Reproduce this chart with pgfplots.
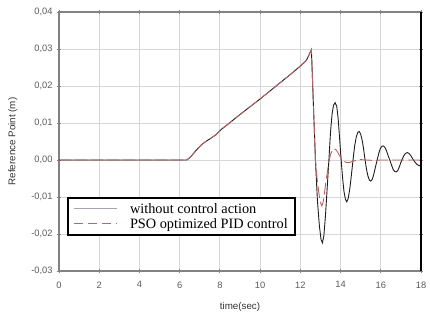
\documentclass[border=0pt]{standalone}
\usepackage{fontspec}
\setmainfont{Liberation Serif}
\setsansfont{Liberation Sans}
\usepackage{pgfplots}
\pgfplotsset{compat=1.18}
\definecolor{curveblack}{RGB}{30,30,30}
\definecolor{curvered}{RGB}{190,95,95}
\definecolor{leggray}{RGB}{165,165,175}
\definecolor{legred}{RGB}{170,110,110}
\definecolor{gridgray}{RGB}{215,215,215}
\definecolor{axgray}{RGB}{130,130,130}
\definecolor{ticktext}{RGB}{90,90,90}
\begin{document}
\begin{tikzpicture}
\useasboundingbox (-59pt,-45pt) rectangle (371pt,271pt);
\begin{axis}[
  scale only axis,
  width=362pt, height=259pt,
  xmin=0, xmax=18, ymin=-0.03, ymax=0.04,
  xtick={0,2,...,18},
  ytick={-0.03,-0.02,-0.01,0,0.01,0.02,0.03,0.04},
  scaled y ticks=false,
  yticklabel style={xshift=-1pt, /pgf/number format/.cd, fixed, fixed zerofill, precision=2, use comma},
  /pgf/number format/assume math mode=true,
  ticklabel style={font=\sffamily\fontsize{9.3}{10}\selectfont, text=ticktext},
  xticklabel style={yshift=-5pt},
  grid=major,
  major grid style={gridgray, line width=0.8pt},
  tick align=center,
  major tick length=4pt,
  tick style={axgray, line width=0.8pt},
  axis line style={axgray, line width=1.4pt},
  xlabel={time(sec)},
  ylabel={Reference Point (m)},
  label style={font=\sffamily\fontsize{9.8}{10}\selectfont, text=black!80},
  xlabel style={yshift=-7pt},
  ylabel style={yshift=7pt},
  legend style={at={(axis cs:0.4,-0.01)}, anchor=north west,
    draw=black, line width=2pt, fill=white,
    font=\rmfamily\fontsize{14.3}{14}\selectfont,
    row sep=2.5pt, inner xsep=5pt, inner ysep=4.5pt,
    nodes={inner ysep=0.6pt}},
  legend cell align=left,
  legend image code/.code={\draw[#1] (0pt,0pt) -- (43pt,0pt);},
]
\addlegendimage{leggray, line width=1pt, solid}
\addlegendentry{\hspace{11pt}without control action}
\addlegendimage{legred, line width=1pt, dash pattern=on 9pt off 5pt}
\addlegendentry{\hspace{11pt}PSO optimized PID control}

\addplot[curveblack, line width=0.9pt, forget plot] coordinates {
(0,0) (6.35,0) (6.5,0.0006) (6.65,0.0015) (6.8,0.0025) (6.95,0.0034) (7.1,0.0042)
(7.3,0.0050) (7.5,0.0057) (7.8,0.0068) (8.1,0.0084) (8.5,0.0101) (9,0.0123)
(9.5,0.0144) (10,0.0165) (10.5,0.0187) (11,0.0209) (11.5,0.0231) (12,0.0254)
(12.3,0.0269) (12.55,0.0298) (12.65,0.015) (12.75,0.0) (12.85,-0.011) (12.95,-0.018)
(13.03,-0.0215) (13.1,-0.0224) (13.17,-0.0205) (13.25,-0.015) (13.33,-0.008)
(13.42,0.0) (13.5,0.0075) (13.58,0.0125) (13.65,0.0148) (13.73,0.0155) (13.81,0.0145)
(13.88,0.0112) (13.95,0.006) (14.03,0.0) (14.1,-0.0048) (14.17,-0.0085) (14.24,-0.0106)
(14.31,-0.0113) (14.38,-0.0104) (14.46,-0.0078) (14.54,-0.004) (14.62,0.0)
(14.7,0.0038) (14.78,0.0062) (14.86,0.0075) (14.93,0.0077) (15.0,0.007) (15.08,0.0052)
(15.15,0.0028) (15.22,0.0) (15.29,-0.0025) (15.36,-0.0043) (15.43,-0.0054) (15.5,-0.0057)
(15.58,-0.0052) (15.65,-0.0039) (15.73,-0.002) (15.82,0.0) (15.9,0.0018) (15.97,0.0030)
(16.05,0.0037) (16.13,0.0038) (16.21,0.0034) (16.29,0.0024) (16.37,0.0011) (16.45,0.0)
(16.53,-0.0013) (16.61,-0.0025) (16.69,-0.0031) (16.77,-0.0032) (16.85,-0.0028)
(16.92,-0.0019) (16.99,-0.0008) (17.05,0.0) (17.13,0.001) (17.2,0.0016) (17.27,0.0019)
(17.33,0.002) (17.42,0.0017) (17.5,0.0011) (17.6,0.0002) (17.7,-0.0006) (17.8,-0.0012)
(17.9,-0.0015) (18,-0.0016)
};
\addplot[curvered, line width=0.9pt, dash pattern=on 12pt off 4pt, forget plot] coordinates {
(0,0) (6.35,0) (6.5,0.0006) (6.65,0.0015) (6.8,0.0025) (6.95,0.0034) (7.1,0.0042)
(7.3,0.0050) (7.5,0.0057) (7.8,0.0068) (8.1,0.0084) (8.5,0.0101) (9,0.0123)
(9.5,0.0144) (10,0.0165) (10.5,0.0187) (11,0.0209) (11.5,0.0231) (12,0.0254)
(12.3,0.0269) (12.55,0.0298) (12.65,0.015) (12.75,0.0) (12.85,-0.006) (12.95,-0.0100)
(13.02,-0.0118) (13.07,-0.0124) (13.14,-0.0112) (13.2,-0.009) (13.28,-0.0055)
(13.35,-0.003) (13.43,-0.0003) (13.5,0.0015) (13.6,0.0027) (13.7,0.0030) (13.8,0.0026)
(13.9,0.0017) (14.0,0.0007) (14.1,0.0) (14.25,-0.0006) (14.4,-0.0007) (14.55,-0.0005)
(14.7,-0.0002) (14.85,0.0) (15.0,0.0001) (15.3,0.0) (15.6,-0.0001) (16,0.0) (16.5,0.0)
(17,0.0) (17.5,0.0) (18,0.0)
};
\end{axis}
\draw[black, line width=1.2pt] (362pt,0pt) -- (362pt,259pt);
\end{tikzpicture}
\end{document}
